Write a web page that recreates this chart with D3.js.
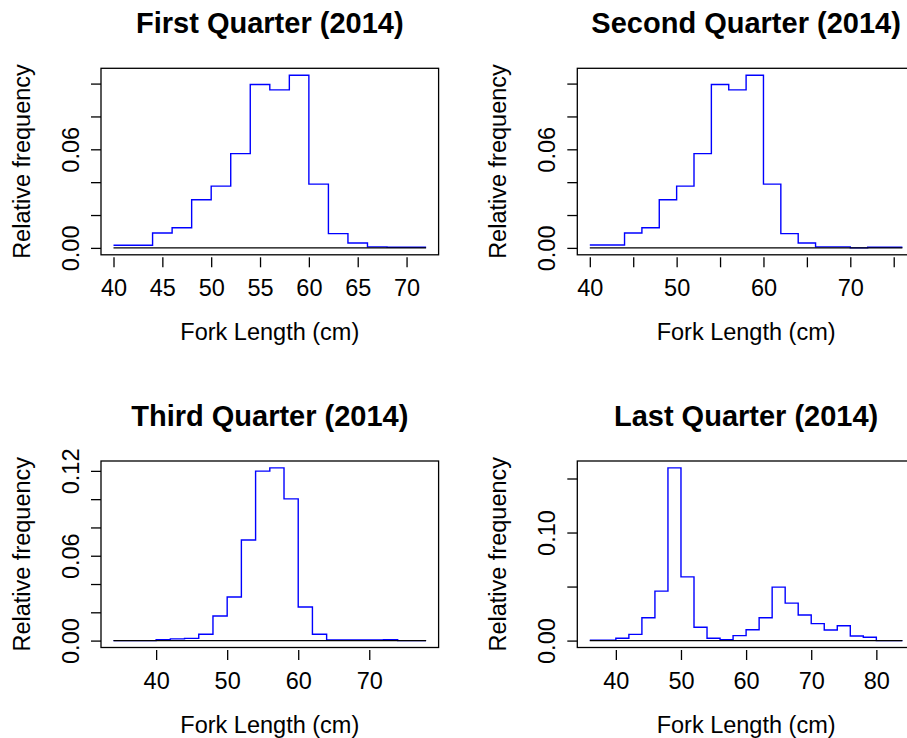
<!DOCTYPE html>
<html>
<head>
<meta charset="utf-8">
<script src="https://cdn.jsdelivr.net/npm/d3@7/dist/d3.min.js"></script>
<style>
  body { margin: 0; background: #fff; }
  svg { display: block; }
  text { font-family: "Liberation Sans", Arial, Helvetica, sans-serif; fill: #000; }
</style>
</head>
<body>
<svg id="chart" width="907" height="738"></svg>
<script>
// bin width is 2 cm, each array starts at the given length
const binWidth = 2;

const q1Start = 40;
const q1Freq = [0.0016, 0.0016, 0.0091, 0.0123, 0.0293, 0.0376, 0.0574, 0.0994,
                0.0962, 0.1051, 0.0388, 0.0087, 0.0030, 0.0006, 0.0004, 0.0004];

const q2Start = 40;
const q2Freq = [0.0018, 0.0018, 0.0091, 0.0123, 0.0293, 0.0376, 0.0574, 0.0994,
                0.0962, 0.1051, 0.0388, 0.0087, 0.0030, 0.0006, 0.0006, 0.0000,
                0.0004, 0.0004];

const q3Start = 34;
const q3Freq = [0, 0, 0, 0.0007, 0.0012, 0.0016, 0.0045, 0.0174, 0.0308, 0.0711,
                0.1198, 0.1221, 0.1002, 0.0238, 0.0045, 0.0005, 0.0005, 0.0005,
                0.0005, 0.0007, 0, 0];

const q4Start = 36;
const q4Freq = [0.0003, 0.0003, 0.0022, 0.0058, 0.0212, 0.0458, 0.1598, 0.0590,
                0.0123, 0.0022, 0.0009, 0.0046, 0.0101, 0.0212, 0.0495, 0.0347,
                0.0237, 0.0157, 0.0098, 0.0138, 0.0043, 0.0031, 0, 0];

const titles = ["First Quarter (2014)", "Second Quarter (2014)",
                "Third Quarter (2014)", "Last Quarter (2014)"];

const q1XTicks = [40, 45, 50, 55, 60, 65, 70], q1XLabels = [40, 45, 50, 55, 60, 65, 70];
const q2XTicks = [40, 45, 50, 55, 60, 65, 70, 75], q2XLabels = [40, 50, 60, 70];
const q3XTicks = [40, 50, 60, 70], q3XLabels = [40, 50, 60, 70];
const q4XTicks = [40, 50, 60, 70, 80], q4XLabels = [40, 50, 60, 70, 80];

const q1YTicks = [0, 0.02, 0.04, 0.06, 0.08, 0.10], q1YLabels = [0, 0.06];
const q2YTicks = [0, 0.02, 0.04, 0.06, 0.08, 0.10], q2YLabels = [0, 0.06];
const q3YTicks = [0, 0.02, 0.04, 0.06, 0.08, 0.10, 0.12], q3YLabels = [0, 0.06, 0.12];
const q4YTicks = [0, 0.05, 0.10, 0.15], q4YLabels = [0, 0.10];

const panels = [
  { title: titles[0], start: q1Start, freq: q1Freq, xt: q1XTicks, xl: q1XLabels, yt: q1YTicks, yl: q1YLabels, col: 0, row: 0 },
  { title: titles[1], start: q2Start, freq: q2Freq, xt: q2XTicks, xl: q2XLabels, yt: q2YTicks, yl: q2YLabels, col: 1, row: 0 },
  { title: titles[2], start: q3Start, freq: q3Freq, xt: q3XTicks, xl: q3XLabels, yt: q3YTicks, yl: q3YLabels, col: 0, row: 1 },
  { title: titles[3], start: q4Start, freq: q4Freq, xt: q4XTicks, xl: q4XLabels, yt: q4YTicks, yl: q4YLabels, col: 1, row: 1 }
];

const svg = d3.select('#chart');
const boxW = 337.6, boxH = 186.5;
const colX = [101, 577.3];
const rowY = [68.3, 461];
const fontAxis = 23.5, fontTitle = 29;

panels.forEach(p => {
  const x0 = colX[p.col], y0 = rowY[p.row];
  const n = p.freq.length;
  const xmin = p.start, xmax = p.start + n * binWidth;
  const ymax = d3.max(p.freq);

  // R style 4% padding
  const x = d3.scaleLinear()
    .domain([xmin - 0.04 * (xmax - xmin), xmax + 0.04 * (xmax - xmin)])
    .range([0, boxW]);
  const y = d3.scaleLinear()
    .domain([-0.04 * ymax, 1.04 * ymax])
    .range([boxH, 0]);

  const g = svg.append('g').attr('transform', `translate(${x0},${y0})`);

  // step line
  const pts = p.freq.map((v, i) => [xmin + i * binWidth, v]);
  pts.push([xmax, p.freq[n - 1]]);
  const line = d3.line()
    .x(d => x(d[0]))
    .y(d => y(d[1]))
    .curve(d3.curveStepAfter);

  g.append('path')
    .datum(pts)
    .attr('d', line)
    .attr('fill', 'none')
    .attr('stroke', '#0000ff')
    .attr('stroke-width', 1.4);

  // zero line
  g.append('path')
    .datum([[xmin, 0], [xmax, 0]])
    .attr('d', d3.line().x(d => x(d[0])).y(d => y(d[1])))
    .attr('stroke', '#000')
    .attr('stroke-width', 1.3);

  // box
  g.append('rect')
    .attr('width', boxW)
    .attr('height', boxH)
    .attr('fill', 'none')
    .attr('stroke', '#000')
    .attr('stroke-width', 1.3);

  // x axis
  const xa = g.append('g')
    .attr('transform', `translate(0,${boxH + 2.5})`)
    .call(d3.axisBottom(x).tickValues(p.xt).tickSize(10)
      .tickFormat(d => p.xl.includes(d) ? d : ''));
  xa.select('.domain').remove();
  xa.selectAll('.tick line').attr('stroke', '#000').attr('stroke-width', 1.3);
  xa.selectAll('.tick text')
    .attr('y', 39.2).attr('dy', null)
    .attr('font-size', fontAxis)
    .attr('font-family', null);

  // y axis
  const ya = g.append('g')
    .call(d3.axisLeft(y).tickValues(p.yt).tickSize(10)
      .tickFormat(d => p.yl.some(v => Math.abs(v - d) < 1e-9) ? d3.format('.2f')(d) : ''));
  ya.select('.domain').remove();
  ya.selectAll('.tick line').attr('stroke', '#000').attr('stroke-width', 1.3);
  ya.selectAll('.tick text')
    .attr('x', null).attr('dy', null)
    .attr('transform', 'translate(-22.5,0) rotate(-90)')
    .attr('text-anchor', 'middle')
    .attr('font-size', fontAxis)
    .attr('font-family', null);

  // titles and axis labels
  g.append('text')
    .attr('x', boxW / 2)
    .attr('y', -35.3)
    .attr('text-anchor', 'middle')
    .attr('font-size', fontTitle)
    .attr('font-weight', 'bold')
    .text(p.title);

  g.append('text')
    .attr('x', boxW / 2)
    .attr('y', boxH + 85.2)
    .attr('text-anchor', 'middle')
    .attr('font-size', fontAxis)
    .text('Fork Length (cm)');

  g.append('text')
    .attr('transform', `translate(-71,${boxH / 2}) rotate(-90)`)
    .attr('text-anchor', 'middle')
    .attr('font-size', fontAxis)
    .text('Relative frequency');
});
</script>
</body>
</html>
